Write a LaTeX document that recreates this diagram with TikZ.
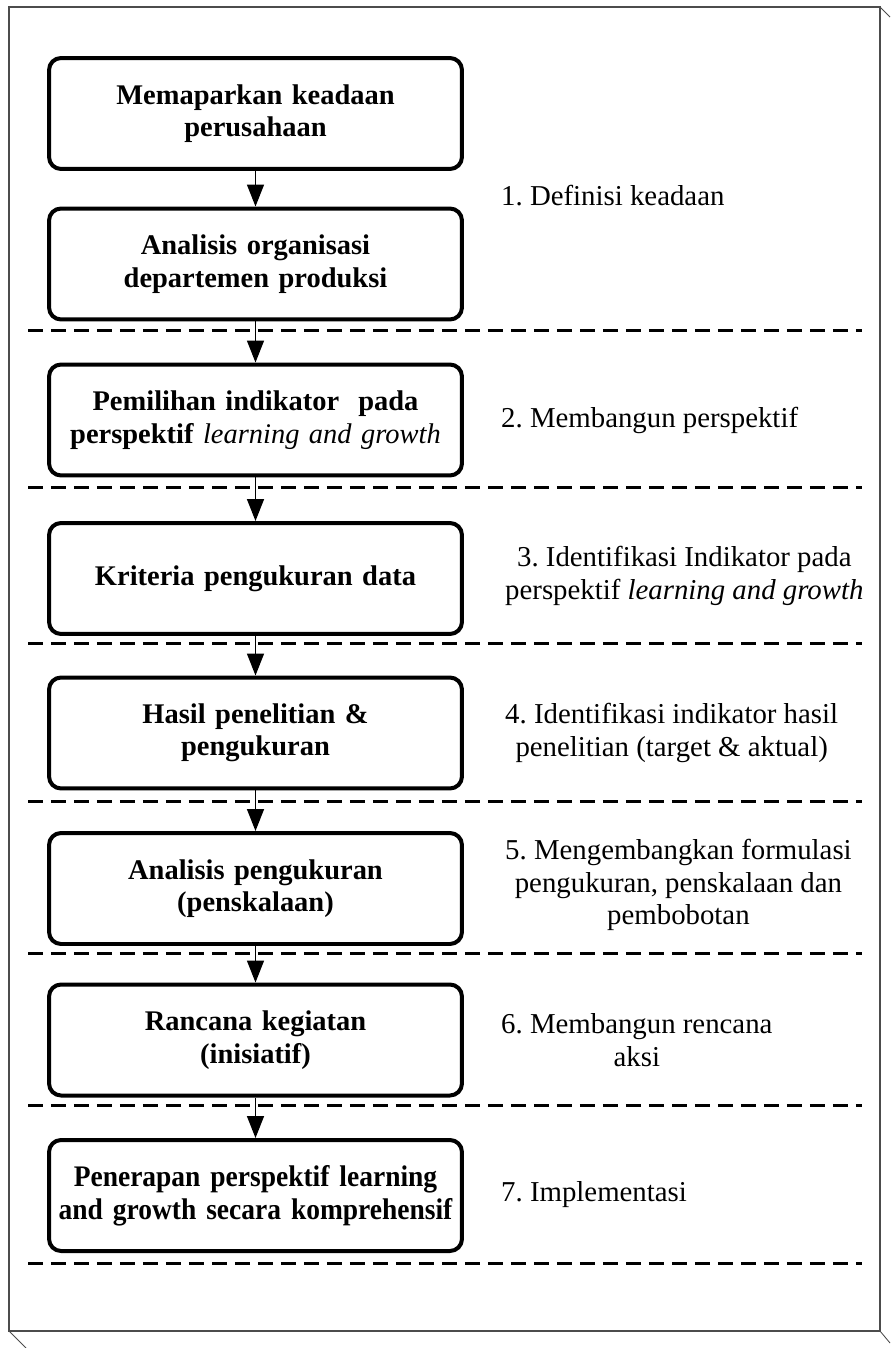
\documentclass[tikz,border=0pt]{standalone}
\usepackage{fontspec}
\setmainfont{Liberation Serif}
\newfontfamily\narrowserif[FakeStretch=0.92]{Liberation Serif}
\usetikzlibrary{arrows.meta}

\begin{document}
\begin{tikzpicture}[x=0.02cm, y=-0.02cm]
		\tikzstyle{proc}=[draw, line width=0.08cm, rounded corners=0.24cm, minimum width=8.26cm, minimum height=2.22cm, text width=7.9cm, align=center, font=\fontsize{16.2}{18.5}\selectfont\bfseries]
		\tikzstyle{stage}=[anchor=west, align=center, font=\fontsize{16.4}{18.5}\selectfont]
		\tikzstyle{sep}=[line width=0.06cm, dash pattern=on 0.3cm off 0.16cm]
		\tikzstyle{flow}=[line width=0.03cm, -{Triangle[length=0.44cm, width=0.34cm]}]
		\useasboundingbox (0,0) rectangle (890,1348);
		
		% outer frame
		\draw[gray!60!black, line width=0.6pt] (9,7) rectangle (880,1331);
		\draw[gray!60!black, line width=0.5pt] (880,7) -- (890,17)
		(880,1331) -- (890,1343)
		(9,1331) -- (26,1348);
		
		% stage borders
		\foreach \y in {330,487,643,801,953,1105,1263}
		\draw[sep] (28,\y) -- (862,\y);
		
		\node[proc](p-1) at (255.5,113.5) {Memaparkan keadaan\\perusahaan};
		\node[proc](p-2) at (255.5,264) {Analisis organisasi\\departemen produksi};
		\node[proc](p-3) at (255.5,420) {Pemilihan indikator\ \ pada\\perspektif {\mdseries\itshape learning and growth}};
		\node[proc](p-4) at (255.5,578.5) {Kriteria pengukuran data};
		\node[proc](p-5) at (255.5,733) {Hasil penelitian \&\\pengukuran};
		\node[proc](p-6) at (255.5,888.5) {Analisis pengukuran\\(penskalaan)};
		\node[proc](p-7) at (255.5,1040) {Rancana kegiatan\\(inisiatif)};
		\node[proc, font=\fontsize{17}{19}\narrowserif\bfseries](p-8) at (255.5,1195.5) {Penerapan perspektif learning\\and growth secara komprehensif};
		
		\node[stage](s-1) at (495,196) {1.\ Definisi keadaan};
		\node[stage](s-2) at (495,420) {2.\ Membangun perspektif};
		\node[stage](s-3) at (499,576) {3.\ Identifikasi Indikator pada\\perspektif \textit{learning and growth}};
		\node[stage](s-4) at (499,733) {4.\ Identifikasi indikator hasil\\penelitian (target \& aktual)};
		\node[stage](s-5) at (499,885) {5.\ Mengembangkan formulasi\\pengukuran, penskalaan dan\\pembobotan};
		\node[stage](s-6) at (495,1040) {6.\ Membangun rencana\\aksi};
		\node[stage](s-7) at (495,1195) {7.\ Implementasi};
		
		\foreach \a/\b in {1/2,2/3,3/4,4/5,5/6,6/7,7/8}
		\path[flow] (p-\a) edge (p-\b);
\end{tikzpicture}
\end{document}
